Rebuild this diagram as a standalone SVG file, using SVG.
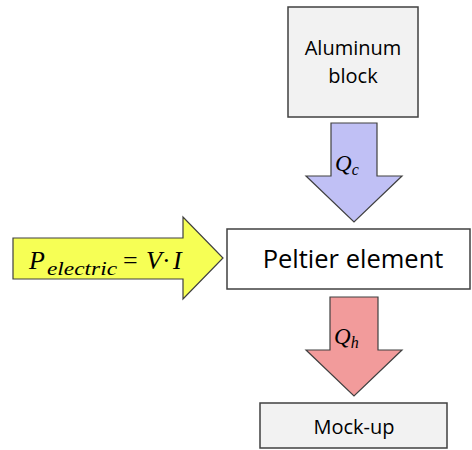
<svg xmlns="http://www.w3.org/2000/svg" width="472" height="450" viewBox="0 0 472 450">
<style>
.box{stroke:#404040;stroke-width:1.5}
.arr{stroke:#404040;stroke-width:1.2;stroke-linejoin:miter}
.lbl{font-family:"Open Sans","Liberation Sans",sans-serif;fill:#000;text-anchor:middle}
.math{font-family:"Liberation Serif","DejaVu Serif",serif;font-style:italic;fill:#000}
.up{font-style:normal}
</style>
<rect width="472" height="450" fill="#fff"/>
<g id="aluminum">
<rect class="box" x="288" y="7" width="130" height="110" fill="#f2f2f2"/>
<text class="lbl" x="353" y="55" font-size="20">Aluminum</text>
<text class="lbl" x="353" y="83" font-size="20">block</text>
</g>
<g id="peltier">
<rect class="box" x="227" y="229" width="243" height="60" fill="#fff"/>
<text class="lbl" x="353" y="268" font-size="25.5">Peltier element</text>
</g>
<g id="mockup">
<rect class="box" x="260" y="403" width="187" height="45" fill="#f2f2f2"/>
<text class="lbl" x="354" y="434" font-size="20">Mock-up</text>
</g>
<g id="connectors">
<g id="qc">
<polygon class="arr" points="331,123 377,123 377,176 402,176 354,222 306,176 331,176" fill="#c0c0f5"/>
<text class="math" x="335" y="171" font-size="23">Q<tspan font-size="16" dy="4">c</tspan></text>
</g>
<g id="qh">
<polygon class="arr" points="330,297 378,297 378,350 402,350 354,396 306,350 330,350" fill="#f29b9b"/>
<text class="math" x="334" y="344" font-size="23">Q<tspan font-size="16" dy="4">h</tspan></text>
</g>
<g id="pelectric">
<polygon class="arr" points="13,238 183,238 183,217 223,258 183,299 183,279 13,279" fill="#f6ff55"/>
<text class="math" x="29" y="269" font-size="26">P<tspan x="47" dy="6" font-size="18" textLength="70" lengthAdjust="spacingAndGlyphs">electric</tspan><tspan class="up" x="123" dy="-6">=</tspan><tspan x="146">V</tspan><tspan class="up" x="162">·</tspan><tspan x="173">I</tspan></text>
</g>
</g>
</svg>
